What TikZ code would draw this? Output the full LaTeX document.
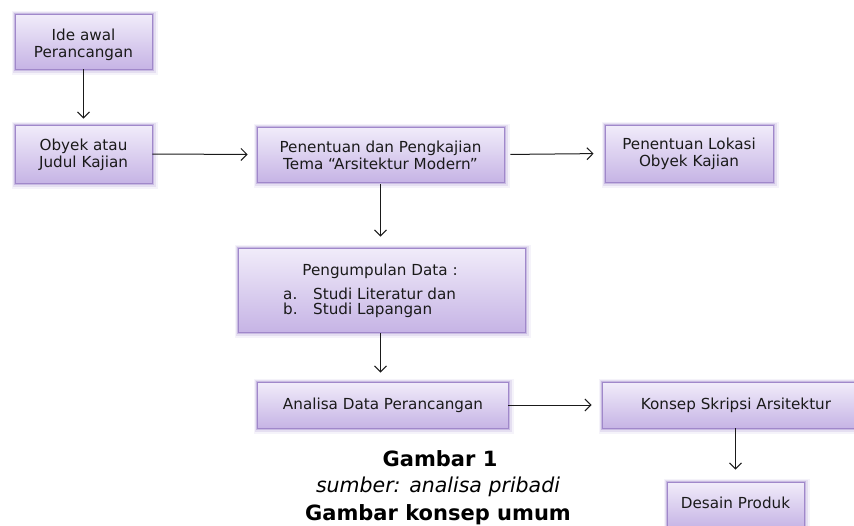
\documentclass[tikz,border=0pt]{standalone}
\usepackage{fontspec}
\setmainfont{DejaVu Sans}
\usetikzlibrary{arrows.meta}
\definecolor{boxtop}{HTML}{F1ECFA}
\definecolor{boxbot}{HTML}{C6B4E5}
\definecolor{boxline}{HTML}{A088CA}
\definecolor{glow}{HTML}{8464BE}
\definecolor{ink}{HTML}{1A1A1A}
\begin{document}
\begin{tikzpicture}[x=1pt,y=-1pt,
  flowbox/.style={rectangle, inner sep=0pt, draw=boxline, line width=0.8pt,
    top color=boxtop, bottom color=boxbot,
    preaction={draw=glow, line width=9pt, opacity=0.08, transform canvas={shift={(1.2pt,-1.2pt)}}},
    preaction={draw=glow, line width=6pt, opacity=0.14, transform canvas={shift={(1pt,-1pt)}}},
    preaction={draw=glow, line width=3pt, opacity=0.30, transform canvas={shift={(0.8pt,-0.8pt)}}}},
  boxtext/.style={text=ink, font=\fontsize{15.2}{17}\selectfont, align=center, inner sep=0pt},
  arr/.style={draw=ink, line width=1pt, -{Straight Barb[length=6pt,width=12pt,line width=1pt]}},
  captionbf/.style={text=black, font=\fontsize{21}{25}\selectfont\bfseries, inner sep=0pt},
  captionit/.style={text=black, font=\fontsize{20.5}{24}\selectfont\itshape, inner sep=0pt}
]
\useasboundingbox (0,0) rectangle (854,525);

% boxes
\node[flowbox, minimum width=137pt, minimum height=55pt] (b1) at (83.5,41.5) {};
\node[flowbox, minimum width=137pt, minimum height=58pt] (b2) at (83.5,154) {};
\node[flowbox, minimum width=247pt, minimum height=55pt] (b3) at (380.5,154.5) {};
\node[flowbox, minimum width=168pt, minimum height=57pt] (b4) at (689,153.5) {};
\node[flowbox, minimum width=287pt, minimum height=84pt] (b5) at (381.5,290) {};
\node[flowbox, minimum width=251pt, minimum height=46pt] (b6) at (382.5,405) {};
\node[flowbox, minimum width=268pt, minimum height=46pt] (b7) at (736,405) {};
\node[flowbox, minimum width=137pt, minimum height=46pt] (b8) at (735.5,505) {};

% texts
\node[boxtext] (t1) at (83.5,45) {Ide awal\\Perancangan};
\node[boxtext] (t2) at (83.5,155) {Obyek atau\\Judul Kajian};
\node[boxtext] (t3) at (380.5,155) {Penentuan dan Pengkajian\\Tema “Arsitektur Modern”};
\node[boxtext] (t4) at (689,154) {Penentuan Lokasi\\Obyek Kajian};
\node[boxtext, anchor=base] (t5) at (380,275.5) {Pengumpulan Data :};
\node[boxtext, anchor=base west] (t5a) at (283,299) {a.};
\node[boxtext, anchor=base west] (t5b) at (283,314) {b.};
\node[boxtext, anchor=base west] (t5c) at (313,299) {Studi Literatur dan};
\node[boxtext, anchor=base west] (t5d) at (313,314) {Studi Lapangan};
\node[boxtext] (t6) at (383,405) {Analisa Data Perancangan};
\node[boxtext] (t7) at (736,405) {Konsep Skripsi Arsitektur};
\node[boxtext] (t8) at (735.5,503) {Desain Produk};

% captions
\node[captionbf] (c1) at (440,459) {Gambar 1};
\node[captionit] (c2) at (438,487) {sumber: analisa pribadi};
\node[captionbf] (c3) at (438,515) {Gambar konsep umum};

% connectors
\draw[arr, shorten >=6pt] (b1.south) -- (b2.north);
\draw[arr, shorten >=9pt] (b2.east) -- (b3.west);
\draw[arr, shorten <=6pt, shorten >=11pt] (b3.east) -- (b4.west);
\draw[arr, shorten <=2pt, shorten >=11pt] (b3.south) -- (b3.south |- b5.north);
\draw[arr, shorten <=1pt, shorten >=9pt] (b5.south -| b3.south) -- (b3.south |- b6.north);
\draw[arr, shorten >=10pt] (b6.east) -- (b7.west);
\draw[arr, shorten >=12pt] (b7.south -| b8.north) -- (b8.north);
\end{tikzpicture}
\end{document}
